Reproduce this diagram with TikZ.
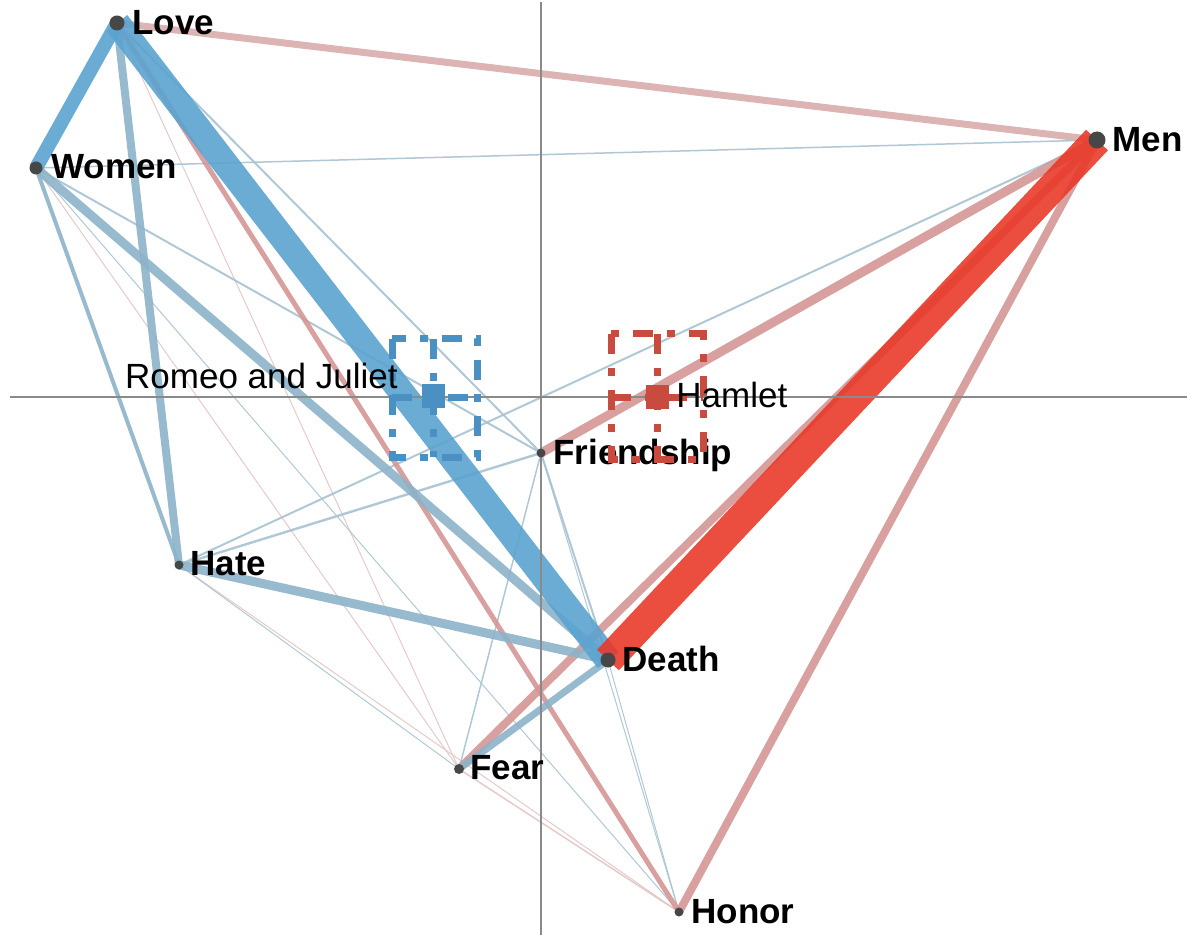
\documentclass[tikz,border=0pt]{standalone}
\usepackage{fontspec}
\setmainfont{Liberation Sans}
\definecolor{rjblue}{HTML}{5BA3D0}
\definecolor{rjmid}{HTML}{8CB3CA}
\definecolor{rjthin}{HTML}{A7C2D2}
\definecolor{rjbox}{HTML}{4A90C2}
\definecolor{hmred}{HTML}{E93A2A}
\definecolor{hmmid}{HTML}{D49695}
\definecolor{hmpale}{HTML}{D8ACAB}
\definecolor{hmthin}{HTML}{E3C3C3}
\definecolor{hmbox}{HTML}{C94A3E}
\definecolor{dotgrey}{HTML}{474747}
\definecolor{axisgrey}{HTML}{8A8A8A}
\pgfdeclarelayer{links}
\pgfsetlayers{links,main}
\tikzset{
        term_dot/.style={circle, fill=dotgrey, inner sep=0pt, minimum size=#1},
        term_text/.style={anchor=base west, inner sep=0pt, font=\fontsize{17.5}{20}\selectfont\bfseries},
        play_text/.style={inner sep=0pt, font=\fontsize{17.5}{20}\selectfont},
        rj_edge/.style={draw=rjmid, line width=#1, opacity=.9},
        rj_thin/.style={draw=rjthin, line width=#1, opacity=.9},
        hm_edge/.style={draw=hmmid, line width=#1, opacity=.9},
        hm_thin/.style={draw=hmthin, line width=#1, opacity=.9},
        axis_line/.style={draw=axisgrey, line width=.7pt},
        box_line/.style={line width=3.5pt, dash pattern=on 10pt off 7pt on 4pt off 7pt},
        play_mark/.style={rectangle, inner sep=0pt, minimum size=11.5pt}
    }

\begin{document}
\begin{tikzpicture}[x=0.5pt, y=-0.5pt]
    \useasboundingbox (0,0) rectangle (1193,935);
    \node[term_dot=7.5pt] (love) at (117,23) {};
    \node[term_dot=6.5pt] (women) at (36,168) {};
    \node[term_dot=8.5pt] (men) at (1097,140) {};
    \node[term_dot=4.5pt] (hate) at (179,565) {};
    \node[term_dot=7.5pt] (death) at (608,660) {};
    \node[term_dot=5pt] (fear) at (459,769) {};
    \node[term_dot=4.5pt] (friend) at (541,453) {};
    \node[term_dot=4.5pt] (honor) at (679,912) {};

    \node[term_text] (love_lbl) at (132,35) {Love};
    \node[term_text] (women_lbl) at (51,179) {Women};
    \node[term_text] (men_lbl) at (1112,152) {Men};
    \node[term_text] (hate_lbl) at (190,575) {Hate};
    \node[term_text] (death_lbl) at (622,671) {Death};
    \node[term_text] (fear_lbl) at (470,779) {Fear};
    \node[term_text] (friend_lbl) at (553,464) {Friendship};
    \node[term_text] (honor_lbl) at (691,923) {Honor};

    \begin{pgfonlayer}{links}
        % thin links
        \draw[hm_thin=.5pt] (love.center) -- (fear.center);
        \draw[hm_thin=.5pt] (women.center) -- (fear.center);
        \draw[hm_thin=.5pt] (hate.center) -- (honor.center);
        \draw[hm_thin=.75pt] (fear.center) -- (honor.center);
        \draw[rj_thin=.75pt] (women.center) -- (men.center);
        \draw[rj_thin=1pt] (love.center) -- (friend.center);
        \draw[rj_thin=1pt] (women.center) -- (friend.center);
        \draw[rj_thin=1.2pt] (hate.center) -- (friend.center);
        \draw[rj_thin=1pt] (hate.center) -- (men.center);
        \draw[rj_thin=1pt] (friend.center) -- (death.center);
        \draw[rj_thin=.75pt] (friend.center) -- (fear.center);
        \draw[rj_thin=.5pt] (friend.center) -- (honor.center);
        \draw[rj_thin=.5pt] (death.center) -- (honor.center);
        \draw[rj_thin=.5pt] (women.center) -- (honor.center);
        \draw[rj_thin=.5pt] (hate.center) -- (fear.center);

        \draw[hm_edge=3.5pt, draw=hmpale] (love.center) -- (men.center);
        \draw[hm_edge=2.5pt] (love.center) -- (honor.center);
        \draw[hm_edge=4.5pt] (friend.center) -- (men.center);
        \draw[hm_edge=4pt] (fear.center) -- (men.center);
        \draw[hm_edge=4pt] (honor.center) -- (men.center);
        \draw[rj_edge=2pt] (women.center) -- (hate.center);
        \draw[rj_edge=4pt] (love.center) -- (hate.center);
        \draw[rj_edge=4.5pt] (women.center) -- (death.center);
        \draw[rj_edge=4.5pt] (hate.center) -- (death.center);
        \draw[rj_edge=3.5pt] (fear.center) -- (death.center);
        \draw[rj_edge=7pt, draw=rjblue] (love.center) -- (women.center);
        \draw[rj_edge=13pt, draw=rjblue] (love.center) -- (death.center);
        \draw[hm_edge=15pt, draw=hmred] (death.center) -- (men.center);

        \draw[axis_line] (541,2) -- (541,935);
        \draw[axis_line] (10,397) -- (1187,397);
    \end{pgfonlayer}

    \begin{scope}
        \draw[box_line, rjbox] (392,339) rectangle (477,457)
            (433,339) -- (433,457) (392,397) -- (477,397);
        \node[play_mark, fill=rjbox] (rj) at (433,396) {};
        \node[play_text, anchor=base east] (rj_lbl) at (398,388) {Romeo and Juliet};
    \end{scope}
    \begin{scope}
        \draw[box_line, hmbox] (611,334) rectangle (703,459)
            (657,334) -- (657,459) (611,397) -- (703,397);
        \node[play_mark, fill=hmbox] (hm) at (657,397) {};
        \node[play_text, anchor=base west] (hm_lbl) at (676,408) {Hamlet};
    \end{scope}
\end{tikzpicture}
\end{document}
